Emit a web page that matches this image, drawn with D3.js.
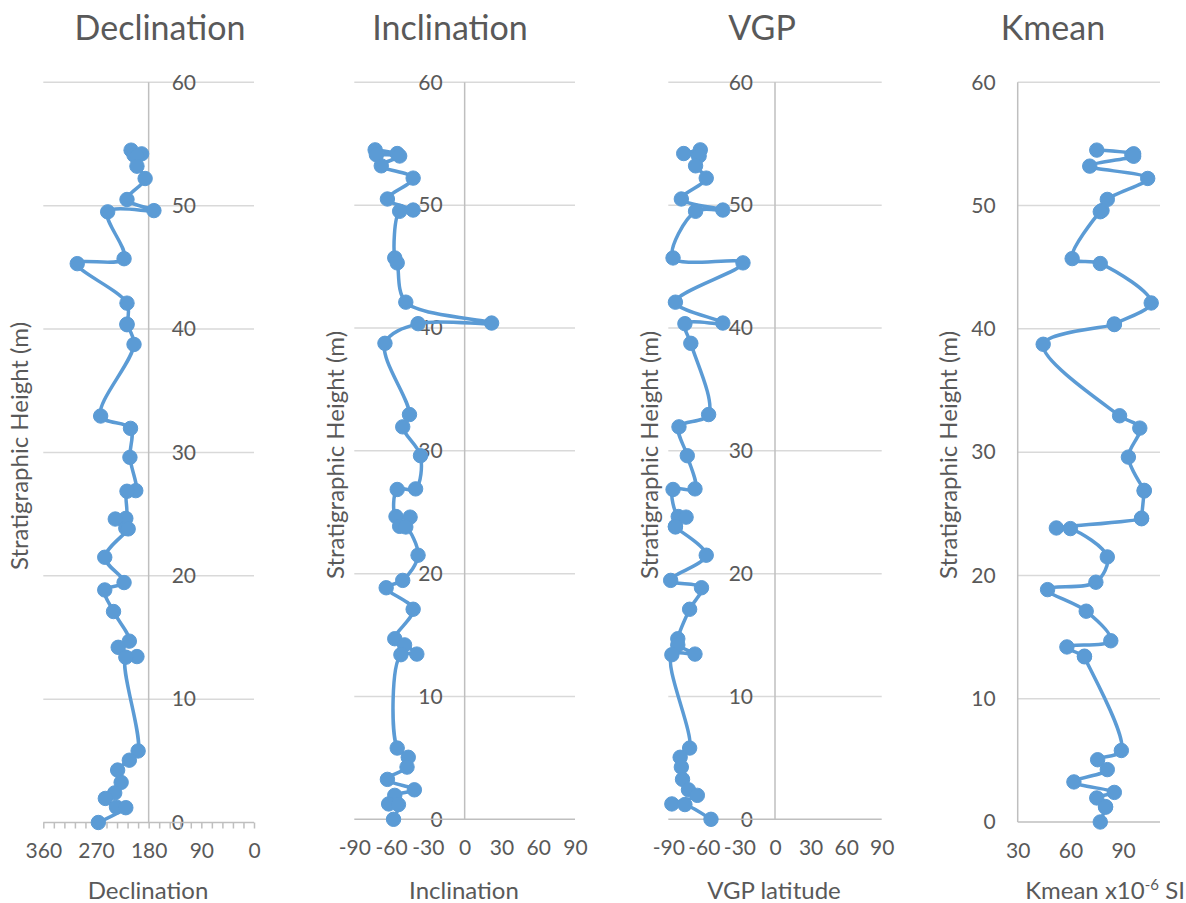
<!DOCTYPE html>
<html>
<head>
<meta charset="utf-8">
<script src="https://cdn.jsdelivr.net/npm/d3@7"></script>
<style>
  html, body { margin: 0; padding: 0; background: #ffffff; }
  svg { display: block; font-family: Lato, "Open Sans", sans-serif; }
</style>
</head>
<body>
<svg id="chart" width="1186" height="903"></svg>
<script>
// Sample heights (m) in section order, top to bottom
const heights = [54.5, 54.2, 54.1, 54.0, 53.2, 52.2, 50.5, 49.6, 49.5, 45.7, 45.3, 42.1, 40.4, 40.35,
  38.75, 32.95, 31.95, 29.6, 26.9, 26.85, 24.65, 24.6, 23.85, 23.8, 21.5, 19.45, 18.85, 17.1,
  14.7, 14.2, 13.45, 13.4, 5.8, 5.05, 4.25, 3.25, 2.4, 1.95, 1.25, 1.2, 0];

// Palaeomagnetic directions per sample (degrees)
const declination = [210, 192, 205, 200, 200, 186, 217, 171, 250, 222, 302, 217, 217, 217,
  205, 262, 211, 212, 202, 217, 219, 237, 219, 215, 255, 222, 255, 240,
  213, 232, 200, 219, 198, 213, 233, 227, 238, 254, 235, 219, 266];
const inclination = [-73, -55, -72, -53, -68, -42, -63, -42, -53, -57, -55, -48, 22, -38,
  -65, -45, -50.5, -36, -40, -55, -56, -44.5, -53, -48, -38, -50.5, -64, -42,
  -57, -49, -39, -52, -55, -46, -47, -63, -41, -57, -62, -54, -58];
const vgpLatitude = [-63, -77, -65, -64, -67, -58, -79, -44, -67, -86, -27, -84, -44, -76,
  -71, -56, -81, -74, -67.5, -86, -81.6, -75, -84, -84, -58, -88, -62, -72,
  -82, -82, -67.5, -87, -72, -80, -79, -78, -73, -65.5, -87, -76, -54];
// Mean magnetic susceptibility (x10^-6 SI)
const kmean = [75, 96, 95, 96, 71, 104, 81, 78, 77, 61, 77, 106, 85, 85,
  44.5, 88, 99.5, 93, 102, 102, 100.5, 100.5, 52, 60, 81, 74.5, 47, 69,
  83, 58, 68, 68, 89, 75.5, 81, 62, 85, 75, 80, 80, 77];

// Axis tick values
const heightTicks = [0, 10, 20, 30, 40, 50, 60];
const declinationTicks = [360, 270, 180, 90, 0];
const declinationMinorTicks = d3.range(0, 361, 18);
const inclinationTicks = [-90, -60, -30, 0, 30, 60, 90];
const vgpTicks = [-90, -60, -30, 0, 30, 60, 90];
const kmeanTicks = [30, 60, 90];

const TEXT = "#595959", GRID = "#d9d9d9", AXIS = "#bfbfbf", BLUE = "#5b9bd5";

const panels = [
  { title: "Declination", titleX: 160, values: declination, domain: [360, 0],
    left: 43.3, right: 254, bottom: 822.5, cross: 180, yLabels: "right",
    ticks: declinationTicks, minor: declinationMinorTicks, axisTitle: "Declination", axisTitleX: 148,
    yTitleX: 20, yTitleY: 446 },
  { title: "Inclination", titleX: 450, values: inclination, domain: [-90, 90],
    left: 354.3, right: 575, bottom: 819.3, cross: 0, yLabels: "left",
    ticks: inclinationTicks, axisTitle: "Inclination", axisTitleX: 464,
    yTitleX: 336, yTitleY: 455 },
  { title: "VGP", titleX: 762, values: vgpLatitude, domain: [-90, 90],
    left: 668.3, right: 881.7, bottom: 819.3, cross: 0, yLabels: "left",
    ticks: vgpTicks, axisTitle: "VGP latitude", axisTitleX: 774,
    yTitleX: 650, yTitleY: 455 },
  { title: "Kmean", titleX: 1053, values: kmean, domain: [30, 111],
    left: 1017.7, right: 1160, bottom: 822, cross: 30, yLabels: "left",
    ticks: kmeanTicks, axisTitle: null, axisTitleX: 1105,
    yTitleX: 949, yTitleY: 455 }
];

const svg = d3.select("#chart");
const TOP = 82.3;

panels.forEach(p => {
  const x = d3.scaleLinear().domain(p.domain).range([p.left, p.right]);
  const y = d3.scaleLinear().domain([0, 60]).range([p.bottom, TOP]);
  const g = svg.append("g");

  // horizontal gridlines
  g.append("g").selectAll("line").data(heightTicks.filter(t => t !== 0)).join("line")
    .attr("x1", p.left).attr("x2", p.right)
    .attr("y1", d => y(d)).attr("y2", d => y(d))
    .attr("stroke", GRID).attr("stroke-width", 1.5);

  // y tick labels
  const yAxis = (p.yLabels === "right" ? d3.axisRight(y) : d3.axisLeft(y))
    .tickValues(heightTicks).tickSize(0).tickPadding(p.yLabels === "right" ? 23 : 22)
    .tickFormat(d => String(d));
  const ya = g.append("g").attr("transform", `translate(${x(p.cross)},0)`).call(yAxis);
  ya.select(".domain").remove();
  ya.selectAll("text").attr("fill", TEXT).style("font-size", "21px").style("font-family", "Lato, 'Open Sans', sans-serif");

  // horizontal (value) axis line with labels
  g.append("line").attr("x1", p.left).attr("x2", p.right)
    .attr("y1", y(0)).attr("y2", y(0)).attr("stroke", AXIS).attr("stroke-width", 1.5);
  if (p.minor) {
    const tk = g.append("g").attr("transform", `translate(0,${y(0)})`)
      .call(d3.axisBottom(x).tickValues(p.minor).tickSize(6).tickFormat(""));
    tk.select(".domain").remove();
    tk.selectAll("line").attr("stroke", AXIS).attr("stroke-width", 1.5);
  }
  const xa = g.append("g").attr("transform", `translate(0,${y(0)})`)
    .call(d3.axisBottom(x).tickValues(p.ticks).tickSize(0).tickPadding(21)
      .tickFormat(d => String(d)));
  xa.select(".domain").remove();
  xa.selectAll("text").attr("fill", TEXT).style("font-size", "21px").style("font-family", "Lato, 'Open Sans', sans-serif");

  // vertical axis line
  g.append("line").attr("x1", x(p.cross)).attr("x2", x(p.cross))
    .attr("y1", y(0)).attr("y2", y(60)).attr("stroke", AXIS).attr("stroke-width", 1.5);

  // chart title
  g.append("text").attr("x", p.titleX).attr("y", 40).attr("text-anchor", "middle")
    .attr("fill", TEXT).style("font-size", "34px").text(p.title);

  // y axis title
  g.append("text").attr("transform", `translate(${p.yTitleX + 8},${p.yTitleY}) rotate(-90)`)
    .attr("text-anchor", "middle").attr("fill", TEXT).style("font-size", "24px")
    .text("Stratigraphic Height (m)");

  // x axis title
  const xt = g.append("text").attr("x", p.axisTitleX).attr("y", 899).attr("text-anchor", "middle")
    .attr("fill", TEXT).style("font-size", "24px");
  if (p.axisTitle) {
    xt.text(p.axisTitle);
  } else {
    xt.append("tspan").text("Kmean x10");
    xt.append("tspan").attr("dy", -9).style("font-size", "15px").text("-6");
    xt.append("tspan").attr("dy", 9).text(" SI");
  }

  // data series: smoothed line with markers
  const pts = heights.map((h, i) => ({ h, v: p.values[i] }));
  const line = d3.line().x(d => x(d.v)).y(d => y(d.h)).curve(d3.curveCatmullRom.alpha(0.5));
  g.append("path").datum(pts).attr("d", line)
    .attr("fill", "none").attr("stroke", BLUE).attr("stroke-width", 3.5)
    .attr("stroke-linejoin", "round").attr("stroke-linecap", "round");
  g.append("g").selectAll("circle").data(pts).join("circle")
    .attr("cx", d => x(d.v)).attr("cy", d => y(d.h)).attr("r", 7.2)
    .attr("fill", BLUE).attr("stroke", BLUE).attr("stroke-width", 1);
});
</script>
</body>
</html>
